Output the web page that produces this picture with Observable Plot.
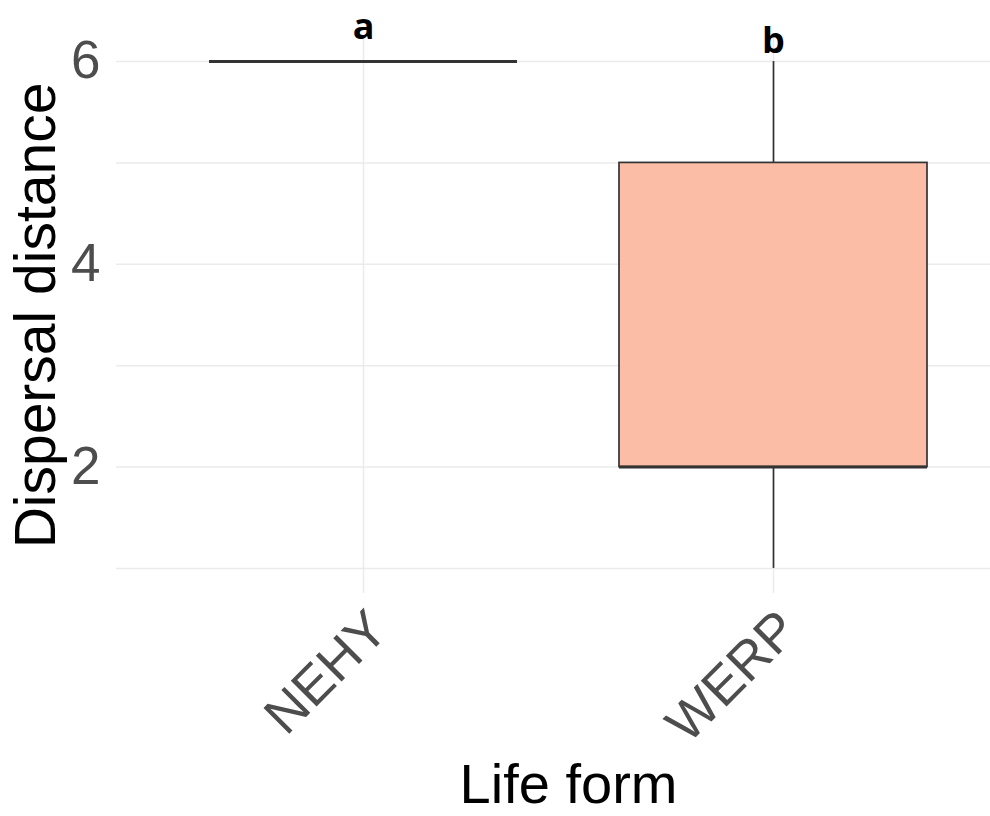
<!DOCTYPE html>
<html><head><meta charset="utf-8">
<script src="https://cdn.jsdelivr.net/npm/d3@7"></script>
<script src="https://cdn.jsdelivr.net/npm/@observablehq/plot@0.6"></script>
<style>
html,body{margin:0;padding:0;background:#fff;overflow:hidden}
#chart{width:990px;height:816px;overflow:hidden}
#chart svg{overflow:hidden}
</style>
</head><body><div id="chart"></div>
<script>
const forms = ["NEHY", "WERP"];
const nehyValues = [6, 6, 6, 6, 6];
const werpValues = [1, 2, 2, 2, 5, 5, 6];
const letters = ["a", "b"];
const letterY = [6.22, 6.08];
const yTicks = [2, 4, 6];
const yGrid = [1, 2, 3, 4, 5, 6];

const data = [
  ...nehyValues.map(v => ({form: "NEHY", value: v})),
  ...werpValues.map(v => ({form: "WERP", value: v}))
];
const q1 = v => d3.quantile(v, 0.25);
const q3 = v => d3.quantile(v, 0.75);
const dark = "#333333";

const chart = Plot.plot({
  width: 990,
  height: 816,
  marginLeft: 116,
  marginRight: -30,
  marginTop: 37,
  marginBottom: 223,
  style: {fontFamily: "'Liberation Sans', Arial, sans-serif", background: "#fff"},
  x: {type: "band", domain: forms, paddingInner: 0.25, paddingOuter: 0.225, align: 0.5},
  y: {domain: [0.753, 6.237]},
  marks: [
    Plot.gridY(yGrid, {stroke: "#ebebeb", strokeOpacity: 1, strokeWidth: 1.5}),
    Plot.gridX({stroke: "#ebebeb", strokeOpacity: 1, strokeWidth: 1.5}),
    Plot.ruleX(data, Plot.groupX({y1: "min", y2: q1}, {x: "form", y: "value", stroke: dark, strokeWidth: 1.7})),
    Plot.ruleX(data, Plot.groupX({y1: q3, y2: "max"}, {x: "form", y: "value", stroke: dark, strokeWidth: 1.7})),
    Plot.barY(data, Plot.groupX({y1: q1, y2: q3}, {x: "form", y: "value", fill: "#fbb89e", fillOpacity: 0.93, stroke: dark, strokeWidth: 1.7})),
    Plot.tickY(data, Plot.groupX({y: "median"}, {x: "form", y: "value", stroke: dark, strokeWidth: 3})),
    Plot.text(letters, {x: (d, i) => forms[i], y: (d, i) => letterY[i], text: d => d,
      fontFamily: "'Open Sans', sans-serif", fontWeight: 700, fontSize: 36, lineAnchor: "bottom", fill: "#000"}),
    Plot.axisY(yTicks, {tickSize: 0, tickPadding: 16, fontSize: 53, fill: "#4d4d4d", label: null, tickFormat: d3.format("d")}),
    Plot.axisY([], {tickSize: 0, fontSize: 57, fill: "#000", label: "Dispersal distance", labelAnchor: "center", labelArrow: "none", labelOffset: 102}),
    Plot.axisX({tickSize: 0, tickRotate: -45, fontSize: 53, fill: "#4d4d4d", label: null, tickPadding: 27, dx: 15}),
    Plot.axisX([], {tickSize: 0, fontSize: 56, fill: "#000", label: "Life form", labelAnchor: "center", labelArrow: "none", labelOffset: 209})
  ]
});
document.getElementById("chart").appendChild(chart);
</script>
</body></html>
